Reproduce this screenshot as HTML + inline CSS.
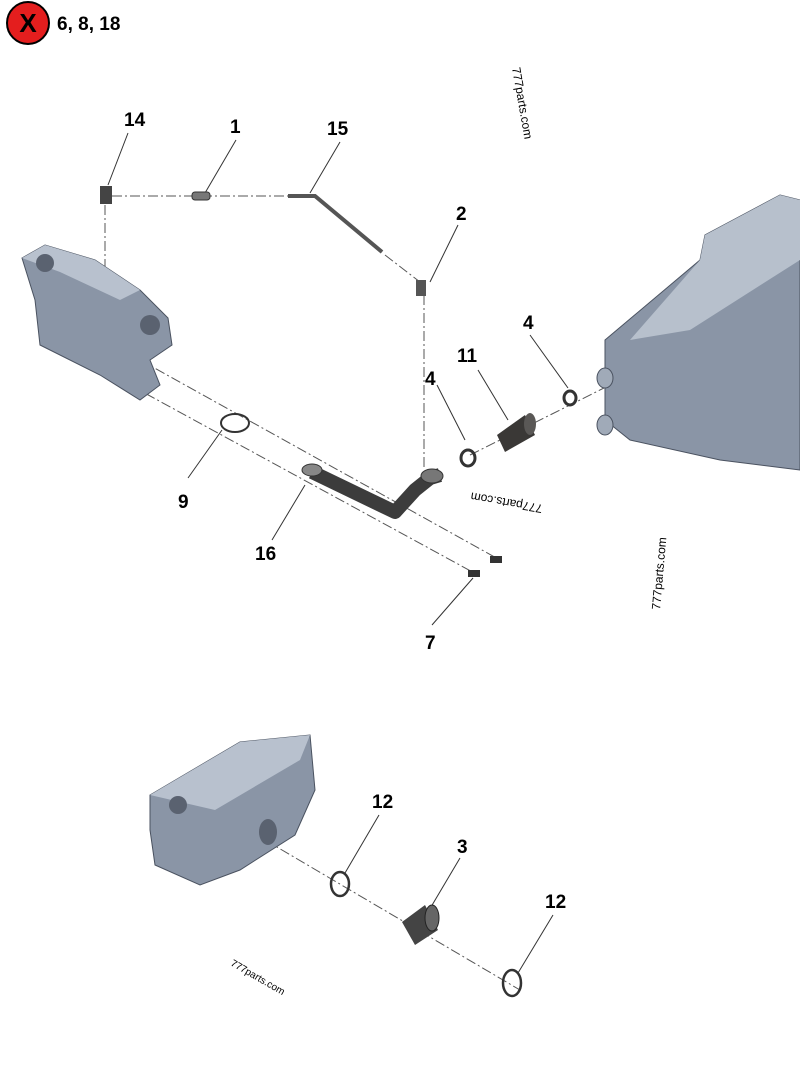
<!DOCTYPE html>
<html><head><meta charset="utf-8"><style>
body{margin:0;background:#fff;width:800px;height:1067px;overflow:hidden}
svg{display:block}
text{font-family:"Liberation Sans",sans-serif}
.n{font-size:19px;font-weight:bold;fill:#000}
.w{font-size:12px;fill:#000}
</style></head><body>
<svg width="800" height="1067" viewBox="0 0 800 1067">
<!-- header badge -->
<circle cx="28" cy="23" r="21" fill="#e41e1e" stroke="#000" stroke-width="2"/>
<text x="28" y="32" text-anchor="middle" style="font-size:26px;font-weight:bold">X</text>
<text x="57" y="30" class="n">6, 8, 18</text>

<!-- dash-dot center lines -->
<g stroke="#555" stroke-width="1" stroke-dasharray="10,3,2,3" fill="none">
<line x1="112" y1="196" x2="290" y2="196"/>
<line x1="105" y1="205" x2="105" y2="300"/>
<line x1="385" y1="255" x2="420" y2="282"/>
<line x1="424" y1="295" x2="424" y2="470"/>
<line x1="140" y1="360" x2="500" y2="560"/>
<line x1="130" y1="385" x2="478" y2="575"/>
<line x1="470" y1="455" x2="610" y2="385"/>
<line x1="265" y1="840" x2="520" y2="990"/>
</g>
<!-- leader lines -->
<g stroke="#333" stroke-width="1">
<line x1="128" y1="133" x2="108" y2="185"/>
<line x1="236" y1="140" x2="205" y2="193"/>
<line x1="340" y1="142" x2="310" y2="193"/>
<line x1="458" y1="225" x2="430" y2="282"/>
<line x1="530" y1="335" x2="568" y2="388"/>
<line x1="437" y1="385" x2="465" y2="440"/>
<line x1="478" y1="370" x2="508" y2="420"/>
<line x1="188" y1="478" x2="222" y2="430"/>
<line x1="272" y1="540" x2="305" y2="485"/>
<line x1="432" y1="625" x2="473" y2="578"/>
<line x1="379" y1="815" x2="345" y2="873"/>
<line x1="460" y1="858" x2="428" y2="912"/>
<line x1="553" y1="915" x2="518" y2="973"/>
</g>

<!-- labels -->
<text x="124" y="126" class="n">14</text>
<text x="230" y="133" class="n">1</text>
<text x="327" y="135" class="n">15</text>
<text x="456" y="220" class="n">2</text>
<text x="523" y="329" class="n">4</text>
<text x="457" y="362" class="n">11</text>
<text x="425" y="385" class="n">4</text>
<text x="178" y="508" class="n">9</text>
<text x="255" y="560" class="n">16</text>
<text x="425" y="649" class="n">7</text>
<text x="372" y="808" class="n">12</text>
<text x="457" y="853" class="n">3</text>
<text x="545" y="908" class="n">12</text>

<!-- watermarks -->
<text class="w" transform="translate(512,68) rotate(80)">777parts.com</text>
<text class="w" transform="translate(750,265) rotate(80)">777parts.com</text>
<text class="w" transform="translate(543,505) rotate(190)">777parts.com</text>
<text class="w" transform="translate(660,610) rotate(-85)">777parts.com</text>
<text class="w" transform="translate(230,965) rotate(30)" style="font-size:10px">777parts.com</text>

<!-- small parts top -->
<rect x="100" y="186" width="12" height="18" fill="#444"/>
<rect x="192" y="192" width="18" height="8" rx="3" fill="#777" stroke="#333"/>
<path d="M288 196 L315 196 L382 252" stroke="#555" stroke-width="4" fill="none"/>
<rect x="416" y="280" width="10" height="16" fill="#555"/>

<!-- left block -->
<path d="M22 258 L45 245 L95 260 L140 290 L168 318 L172 345 L150 360 L160 385 L140 400 L100 375 L40 345 L35 300 Z" fill="#8a95a6" stroke="#4a5260"/>
<path d="M22 258 L45 245 L95 260 L140 290 L120 300 L60 272 Z" fill="#b8c1ce"/>
<circle cx="45" cy="263" r="9" fill="#5a6270"/>
<circle cx="150" cy="325" r="10" fill="#5a6270"/>

<!-- gasket 9 -->
<ellipse cx="235" cy="423" rx="14" ry="9" fill="none" stroke="#333" stroke-width="2"/>

<!-- pipe 16 -->
<path d="M312 472 L395 512 L415 490 L430 478 L440 475" stroke="#3c3c3c" stroke-width="14" fill="none" stroke-linejoin="round"/>
<ellipse cx="312" cy="470" rx="10" ry="6" fill="#888" stroke="#333"/>
<ellipse cx="432" cy="476" rx="11" ry="7" fill="#777" stroke="#333"/>

<!-- bolts -->
<rect x="490" y="556" width="12" height="7" fill="#333"/>
<rect x="468" y="570" width="12" height="7" fill="#333"/>

<!-- clamps and hose -->
<ellipse cx="468" cy="458" rx="7" ry="8" fill="none" stroke="#333" stroke-width="3"/>
<ellipse cx="570" cy="398" rx="6" ry="7" fill="none" stroke="#333" stroke-width="3"/>
<path d="M497 435 L525 415 L535 435 L505 452 Z" fill="#3a3836"/>
<ellipse cx="530" cy="424" rx="6" ry="11" fill="#5a5856"/>

<!-- right block -->
<path d="M605 340 L700 260 L705 235 L780 195 L800 200 L800 470 L720 460 L630 440 L605 420 Z" fill="#8a95a6" stroke="#4a5260"/>
<path d="M630 340 L700 260 L705 235 L780 195 L800 200 L800 260 L690 330 Z" fill="#b7c0cc"/>
<ellipse cx="605" cy="378" rx="8" ry="10" fill="#a0aab8" stroke="#4a5260"/>
<ellipse cx="605" cy="425" rx="8" ry="10" fill="#a0aab8" stroke="#4a5260"/>

<!-- bottom block -->
<path d="M150 795 L240 742 L310 735 L315 790 L295 835 L240 870 L200 885 L155 865 L150 830 Z" fill="#8a95a6" stroke="#4a5260"/>
<path d="M150 795 L240 742 L310 735 L300 760 L215 810 Z" fill="#b8c1ce"/>
<circle cx="178" cy="805" r="9" fill="#5a6270"/>
<ellipse cx="268" cy="832" rx="9" ry="13" fill="#5a6270"/>

<!-- o-rings and sleeve -->
<ellipse cx="340" cy="884" rx="9" ry="12" fill="none" stroke="#333" stroke-width="2.5"/>
<path d="M402 922 L425 905 L438 930 L415 945 Z" fill="#444"/>
<ellipse cx="432" cy="918" rx="7" ry="13" fill="#666" stroke="#222"/>
<ellipse cx="512" cy="983" rx="9" ry="13" fill="none" stroke="#333" stroke-width="2.5"/>
</svg>
</body></html>
